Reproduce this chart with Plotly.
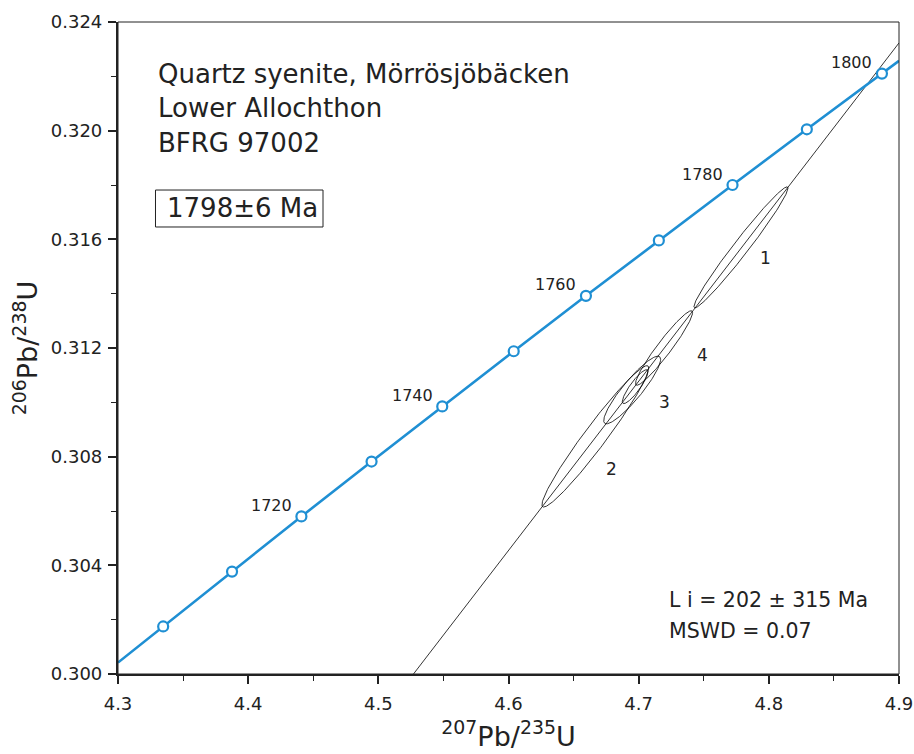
import numpy as np
import plotly.graph_objects as go

# ---- data ----
ages = [1700, 1710, 1720, 1730, 1740, 1750, 1760, 1770, 1780, 1790, 1800]
conc_x = [4.3347, 4.3876, 4.4409, 4.4948, 4.5491, 4.6040, 4.6595, 4.7155, 4.7721, 4.8292, 4.8869]
conc_y = [0.30175, 0.30377, 0.30580, 0.30782, 0.30985, 0.31188, 0.31392, 0.31596, 0.31800, 0.32005, 0.32210]
curve_x = [4.30] + conc_x + [4.90]
curve_y = [0.30042] + conc_y + [0.32257]
labelled_ages = [1720, 1740, 1760, 1780, 1800]

disc_x = [4.527, 4.900]
disc_y = [0.3000, 0.32323]

# zircon analyses: 207/235, half-extent, 206/238, half-extent, rho
spot = ["1", "2", "3", "4", ""]
pb207_u235 = [4.7786, 4.6667, 4.6950, 4.7195, 4.6973]
err_x = [0.03616, 0.04103, 0.02186, 0.02193, 0.00984]
pb206_u238 = [0.315705, 0.308748, 0.310454, 0.3120, 0.310577]
err_y = [0.002228, 0.002602, 0.001246, 0.001371, 0.000623]
rho = [0.9796, 0.9666, 0.9048, 0.9515, 0.88]
spot_label_x = [4.7971, 4.6795, 4.7202, 4.7487]
spot_label_y = [0.31531, 0.30755, 0.31001, 0.31174]

x_ticks = [4.3, 4.4, 4.5, 4.6, 4.7, 4.8, 4.9]
y_ticks = [0.300, 0.304, 0.308, 0.312, 0.316, 0.320, 0.324]

BLUE = "#1f8fd3"
INK = "#222"
FONT = "DejaVu Sans, Verdana, sans-serif"

fig = go.Figure()

# error ellipses
t = np.linspace(0, 2 * np.pi, 240)
for cx, sx, cy, sy, r in zip(pb207_u235, err_x, pb206_u238, err_y, rho):
    ex = cx + sx * np.cos(t)
    ey = cy + sy * (r * np.cos(t) + np.sqrt(1 - r * r) * np.sin(t))
    fig.add_trace(go.Scatter(x=ex, y=ey, mode="lines",
                             line=dict(color="black", width=0.8),
                             hoverinfo="skip", showlegend=False))

# discordia
fig.add_trace(go.Scatter(x=disc_x, y=disc_y, mode="lines",
                         line=dict(color="black", width=0.8),
                         showlegend=False, hoverinfo="skip"))

# concordia
fig.add_trace(go.Scatter(x=curve_x, y=curve_y, mode="lines",
                         line=dict(color=BLUE, width=2.6),
                         showlegend=False, hoverinfo="skip"))
fig.add_trace(go.Scatter(x=conc_x, y=conc_y, mode="markers",
                         marker=dict(symbol="circle", size=10, color="white",
                                     line=dict(color=BLUE, width=2.2)),
                         text=[str(a) for a in ages], showlegend=False))

annotations = []
for a, x, y in zip(ages, conc_x, conc_y):
    if a in labelled_ages:
        annotations.append(dict(x=x, y=y, xref="x", yref="y", text=str(a),
                                showarrow=False, xshift=-30, yshift=11,
                                font=dict(size=16, color=INK, family=FONT)))
for s, x, y in zip(spot, spot_label_x, spot_label_y):
    annotations.append(dict(x=x, y=y, xref="x", yref="y", text=s, showarrow=False,
                            font=dict(size=17, color=INK, family=FONT)))

txt = dict(size=26, color=INK, family=FONT)
for s, py in [("Quartz syenite, Mörrösjöbäcken", 0.921),
              ("Lower Allochthon", 0.868),
              ("BFRG 97002", 0.814)]:
    annotations.append(dict(x=0.0487, y=py, xref="paper", yref="paper", text=s,
                            showarrow=False, xanchor="left", yanchor="middle", font=txt))
annotations.append(dict(x=0.060, y=0.7147, xref="paper", yref="paper", text="1798±6 Ma",
                        showarrow=False, xanchor="left", yanchor="middle", font=txt))
txt2 = dict(size=20.5, color=INK, family=FONT)
annotations.append(dict(x=0.7026, y=0.1135, xref="paper", yref="paper",
                        text="L i = 202 ± 315 Ma", showarrow=False,
                        xanchor="left", yanchor="middle", font=txt2))
annotations.append(dict(x=0.7026, y=0.0664, xref="paper", yref="paper",
                        text="MSWD = 0.07", showarrow=False,
                        xanchor="left", yanchor="middle", font=txt2))

shapes = [
    dict(type="rect", xref="paper", yref="paper", x0=0, x1=1, y0=0, y1=1,
         line=dict(color=INK, width=1)),
    dict(type="rect", xref="paper", yref="paper", x0=0.048, x1=0.2625, y0=0.6856, y1=0.7423,
         line=dict(color=INK, width=1)),
]

axis_common = dict(showgrid=False, zeroline=False, showline=True, linecolor=INK,
                   linewidth=2.2, ticks="outside", ticklen=8, tickwidth=1.5,
                   tickcolor=INK, automargin=False,
                   tickfont=dict(size=18, color=INK, family=FONT))

fig.update_layout(
    width=914, height=754,
    margin=dict(l=118, r=15, t=22, b=80),
    plot_bgcolor="white", paper_bgcolor="white",
    xaxis=dict(range=[4.3, 4.9], tickvals=x_ticks, ticktext=[f"{v:.1f}" for v in x_ticks],
               ticklabelstandoff=4,
               minor=dict(dtick=0.05, tick0=4.3, ticks="outside", ticklen=5,
                          tickwidth=1.2, tickcolor=INK),
               title=dict(text="<sup>207</sup>Pb/<sup>235</sup>U", standoff=14,
                          font=dict(size=27, color=INK, family=FONT)),
               **axis_common),
    yaxis=dict(range=[0.300, 0.324], tickvals=y_ticks, ticktext=[f"{v:.3f}" for v in y_ticks],
               ticklabelstandoff=2,
               minor=dict(dtick=0.002, tick0=0.3, ticks="outside", ticklen=5,
                          tickwidth=1.2, tickcolor=INK),
               title=dict(text="<sup>206</sup>Pb/<sup>238</sup>U", standoff=5,
                          font=dict(size=27, color=INK, family=FONT)),
               **axis_common),
    annotations=annotations,
    shapes=shapes,
    showlegend=False,
)

fig.write_html("out.html")
